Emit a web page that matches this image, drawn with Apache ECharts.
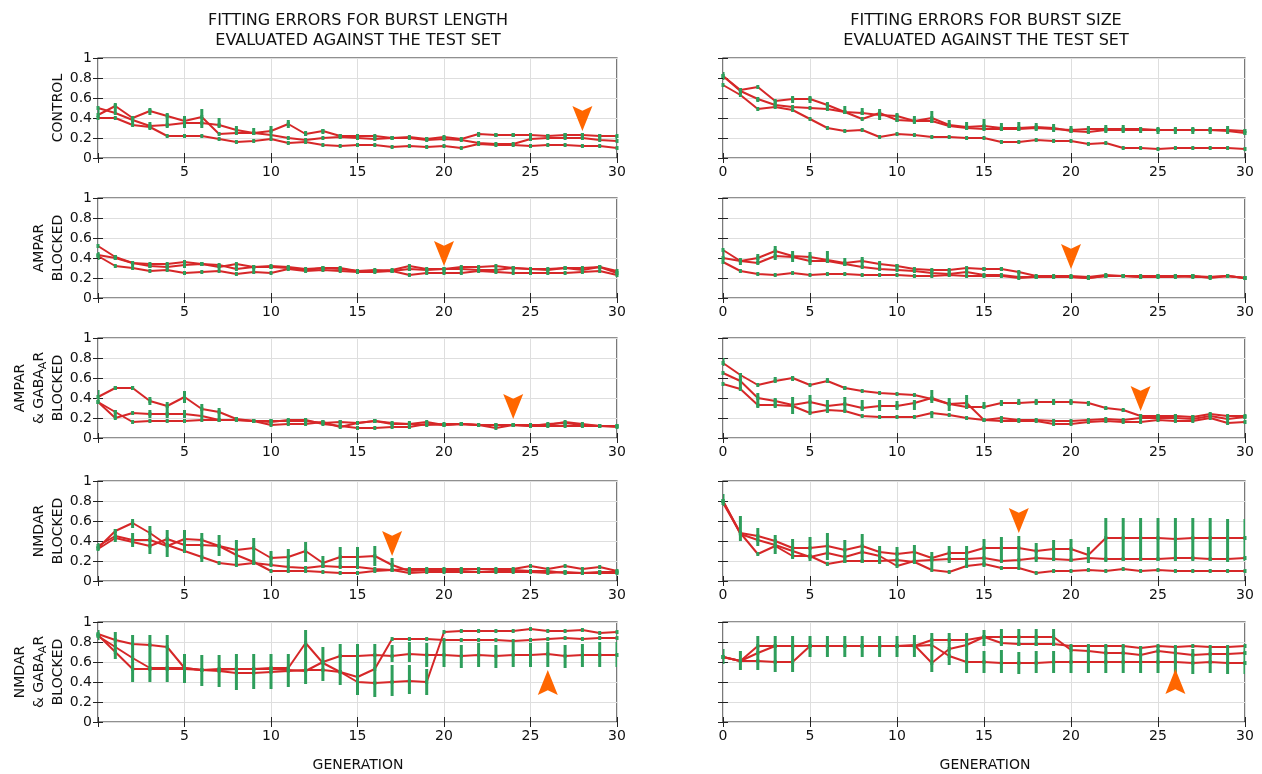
<!DOCTYPE html>
<html>
<head>
<meta charset="utf-8" />
<title>Fitting errors</title>
<script src="https://cdn.jsdelivr.net/npm/echarts@6/dist/echarts.min.js"></script>
<style>html,body{margin:0;background:#fff}#main{width:1262px;height:774px}</style>
</head>
<body>
<div id="main"></div>
<script>
// generations on the x axis
var generations = [0,1,2,3,4,5,6,7,8,9,10,11,12,13,14,15,16,17,18,19,20,21,22,23,24,25,26,27,28,29,30];

// burst length, control
var lenControl = [
  [0.43,0.52,0.40,0.47,0.42,0.37,0.41,0.24,0.25,0.25,0.27,0.34,0.24,0.27,0.22,0.22,0.22,0.20,0.21,0.19,0.21,0.19,0.24,0.23,0.23,0.23,0.22,0.23,0.23,0.22,0.22],
  [0.50,0.45,0.38,0.32,0.33,0.35,0.35,0.33,0.28,0.25,0.23,0.20,0.18,0.20,0.21,0.20,0.19,0.20,0.20,0.18,0.19,0.18,0.15,0.14,0.14,0.19,0.20,0.20,0.20,0.18,0.17],
  [0.40,0.40,0.33,0.31,0.22,0.22,0.22,0.19,0.16,0.17,0.19,0.15,0.16,0.13,0.12,0.13,0.13,0.11,0.12,0.11,0.12,0.10,0.14,0.13,0.13,0.12,0.13,0.13,0.12,0.12,0.10]
];
var lenControlErr = [[0.41,0.5],[0.47,0.55],[0.33,0.42],[0.43,0.5],[0.3,0.45],[0.3,0.42],[0.3,0.49],[0.3,0.4],[0.25,0.32],[0.23,0.3],[0.25,0.32],[0.3,0.38],[0.22,0.27],[0.24,0.29],[0.2,0.24],[0.2,0.24],[0.19,0.23],[0.19,0.22],[0.19,0.22],[0.17,0.21],[0.19,0.22],[0.17,0.2],[0.21,0.26],[0.21,0.25],[0.21,0.25],[0.21,0.24],[0.21,0.24],[0.21,0.25],[0.2,0.25],[0.19,0.24],[0.19,0.23]];
var lenControlErr2 = [[3,0.28,0.36]];

// burst size, control
var sizeControl = [
  [0.82,0.68,0.71,0.57,0.59,0.59,0.53,0.46,0.39,0.45,0.38,0.37,0.40,0.33,0.31,0.32,0.30,0.30,0.31,0.30,0.27,0.26,0.28,0.28,0.28,0.28,0.28,0.28,0.28,0.28,0.27],
  [0.82,0.67,0.59,0.53,0.51,0.50,0.49,0.46,0.45,0.43,0.42,0.37,0.37,0.32,0.30,0.29,0.29,0.29,0.30,0.29,0.28,0.29,0.29,0.29,0.29,0.28,0.28,0.28,0.28,0.27,0.25],
  [0.73,0.63,0.49,0.51,0.48,0.39,0.30,0.27,0.28,0.21,0.24,0.23,0.21,0.21,0.20,0.20,0.16,0.16,0.18,0.17,0.17,0.14,0.15,0.10,0.10,0.09,0.10,0.10,0.10,0.10,0.09]
];
var sizeControlErr = [[0.78,0.86],[0.64,0.7],[0.56,0.6],[0.52,0.58],[0.55,0.62],[0.55,0.62],[0.49,0.56],[0.44,0.52],[0.43,0.5],[0.38,0.49],[0.36,0.45],[0.34,0.42],[0.35,0.47],[0.3,0.38],[0.28,0.36],[0.28,0.39],[0.27,0.35],[0.27,0.36],[0.27,0.35],[0.26,0.34],[0.25,0.32],[0.24,0.32],[0.25,0.33],[0.25,0.33],[0.25,0.31],[0.24,0.31],[0.24,0.31],[0.24,0.31],[0.24,0.31],[0.24,0.32],[0.23,0.29]];
var sizeControlErr2 = [];

// burst length, AMPAR blocked
var lenAmpar = [
  [0.52,0.41,0.35,0.34,0.34,0.36,0.34,0.31,0.34,0.31,0.32,0.31,0.29,0.30,0.30,0.27,0.27,0.28,0.32,0.29,0.29,0.31,0.31,0.32,0.30,0.29,0.29,0.30,0.30,0.31,0.25],
  [0.43,0.40,0.35,0.32,0.31,0.33,0.34,0.33,0.29,0.31,0.31,0.30,0.28,0.30,0.29,0.27,0.28,0.27,0.29,0.28,0.29,0.29,0.28,0.28,0.30,0.29,0.28,0.30,0.28,0.31,0.27],
  [0.42,0.32,0.30,0.27,0.28,0.25,0.26,0.27,0.24,0.26,0.25,0.29,0.27,0.28,0.27,0.26,0.26,0.27,0.23,0.25,0.25,0.25,0.27,0.26,0.25,0.25,0.25,0.25,0.26,0.27,0.23]
];
var lenAmparErr = [[0.38,0.46],[0.38,0.43],[0.32,0.36],[0.3,0.35],[0.3,0.35],[0.3,0.37],[0.32,0.36],[0.3,0.34],[0.3,0.34],[0.28,0.32],[0.29,0.33],[0.29,0.32],[0.26,0.29],[0.28,0.31],[0.28,0.31],[0.25,0.28],[0.26,0.29],[0.26,0.29],[0.27,0.3],[0.26,0.29],[0.26,0.29],[0.28,0.31],[0.26,0.29],[0.26,0.29],[0.27,0.3],[0.27,0.3],[0.27,0.3],[0.28,0.31],[0.27,0.3],[0.29,0.32],[0.24,0.27]];
var lenAmparErr2 = [];

// burst size, AMPAR blocked
var sizeAmpar = [
  [0.48,0.37,0.40,0.47,0.42,0.41,0.38,0.35,0.37,0.34,0.32,0.29,0.28,0.28,0.30,0.29,0.29,0.26,0.22,0.22,0.22,0.21,0.23,0.22,0.22,0.22,0.22,0.22,0.21,0.22,0.20],
  [0.40,0.37,0.35,0.42,0.41,0.37,0.37,0.34,0.31,0.29,0.28,0.27,0.25,0.24,0.26,0.23,0.23,0.21,0.21,0.21,0.21,0.20,0.22,0.22,0.21,0.21,0.21,0.22,0.20,0.22,0.20],
  [0.36,0.27,0.24,0.23,0.25,0.23,0.24,0.24,0.23,0.23,0.23,0.22,0.22,0.23,0.22,0.22,0.22,0.20,0.21,0.21,0.21,0.20,0.22,0.22,0.21,0.22,0.22,0.21,0.21,0.22,0.20]
];
var sizeAmparErr = [[0.38,0.48],[0.33,0.4],[0.34,0.44],[0.38,0.52],[0.36,0.47],[0.33,0.46],[0.35,0.47],[0.32,0.4],[0.31,0.41],[0.3,0.37],[0.29,0.34],[0.27,0.3],[0.26,0.29],[0.24,0.28],[0.25,0.29],[0.27,0.31],[0.27,0.31],[0.23,0.27],[0.2,0.23],[0.2,0.23],[0.2,0.23],[0.19,0.22],[0.21,0.24],[0.21,0.24],[0.2,0.23],[0.2,0.23],[0.21,0.24],[0.21,0.24],[0.2,0.23],[0.21,0.24],[0.19,0.21]];
var sizeAmparErr2 = [];

// burst length, AMPAR & GABA_A R blocked
var lenAmparGaba = [
  [0.41,0.50,0.50,0.37,0.32,0.41,0.29,0.26,0.19,0.17,0.17,0.17,0.17,0.15,0.16,0.15,0.17,0.15,0.14,0.16,0.13,0.14,0.13,0.10,0.13,0.12,0.14,0.15,0.13,0.12,0.12],
  [0.36,0.20,0.25,0.24,0.24,0.24,0.22,0.18,0.18,0.17,0.13,0.14,0.14,0.16,0.11,0.15,0.17,0.14,0.14,0.13,0.14,0.14,0.13,0.13,0.13,0.13,0.13,0.16,0.14,0.12,0.11],
  [0.36,0.26,0.16,0.17,0.17,0.17,0.18,0.18,0.18,0.17,0.16,0.18,0.18,0.14,0.12,0.10,0.10,0.11,0.11,0.14,0.13,0.14,0.13,0.13,0.13,0.12,0.12,0.12,0.12,0.12,0.12]
];
var lenAmparGabaErr = [[0.36,0.48],[0.48,0.52],[0.48,0.52],[0.33,0.41],[0.27,0.36],[0.35,0.47],[0.24,0.34],[0.2,0.3],[0.17,0.21],[0.15,0.19],[0.14,0.19],[0.15,0.19],[0.14,0.2],[0.14,0.18],[0.13,0.18],[0.14,0.17],[0.15,0.19],[0.13,0.16],[0.13,0.17],[0.13,0.17],[0.12,0.15],[0.12,0.15],[0.12,0.14],[0.12,0.14],[0.12,0.14],[0.11,0.14],[0.12,0.15],[0.13,0.16],[0.12,0.15],[0.11,0.13],[0.11,0.13]];
var lenAmparGabaErr2 = [[1,0.19,0.28],[3,0.2,0.28],[4,0.2,0.27],[5,0.2,0.28]];

// burst size, AMPAR & GABA_A R blocked
var sizeAmparGaba = [
  [0.75,0.63,0.53,0.57,0.60,0.53,0.57,0.50,0.47,0.45,0.44,0.43,0.39,0.34,0.31,0.31,0.35,0.35,0.36,0.36,0.36,0.35,0.30,0.28,0.22,0.22,0.22,0.21,0.24,0.22,0.22],
  [0.65,0.57,0.40,0.37,0.33,0.36,0.32,0.34,0.30,0.32,0.32,0.35,0.40,0.34,0.35,0.18,0.20,0.18,0.18,0.17,0.17,0.18,0.19,0.18,0.20,0.20,0.20,0.19,0.22,0.19,0.21],
  [0.54,0.49,0.33,0.33,0.32,0.25,0.28,0.27,0.22,0.21,0.21,0.21,0.25,0.23,0.20,0.18,0.17,0.17,0.17,0.14,0.14,0.16,0.17,0.16,0.16,0.18,0.17,0.17,0.20,0.15,0.16]
];
var sizeAmparGabaErr = [[0.72,0.8],[0.47,0.65],[0.3,0.45],[0.3,0.4],[0.24,0.41],[0.25,0.43],[0.25,0.38],[0.27,0.41],[0.27,0.38],[0.27,0.38],[0.28,0.37],[0.28,0.38],[0.35,0.48],[0.27,0.4],[0.29,0.43],[0.3,0.36],[0.32,0.38],[0.33,0.39],[0.33,0.39],[0.33,0.39],[0.33,0.39],[0.32,0.37],[0.28,0.31],[0.26,0.29],[0.2,0.24],[0.19,0.24],[0.19,0.24],[0.19,0.23],[0.21,0.25],[0.18,0.23],[0.19,0.23]];
var sizeAmparGabaErr2 = [[3,0.56,0.61],[4,0.57,0.62],[6,0.55,0.6],[7,0.48,0.52],[12,0.2,0.26]];

// burst length, NMDAR blocked
var lenNmdar = [
  [0.33,0.50,0.58,0.48,0.36,0.30,0.24,0.18,0.16,0.18,0.16,0.14,0.13,0.15,0.14,0.14,0.12,0.11,0.08,0.09,0.09,0.09,0.09,0.09,0.09,0.09,0.08,0.09,0.08,0.09,0.09],
  [0.35,0.45,0.41,0.41,0.35,0.42,0.41,0.35,0.31,0.33,0.23,0.24,0.30,0.18,0.24,0.24,0.25,0.16,0.10,0.11,0.11,0.11,0.12,0.12,0.12,0.15,0.12,0.15,0.12,0.14,0.10],
  [0.32,0.43,0.39,0.35,0.42,0.36,0.36,0.35,0.26,0.19,0.10,0.10,0.10,0.09,0.08,0.08,0.10,0.11,0.12,0.12,0.12,0.12,0.12,0.11,0.11,0.10,0.10,0.08,0.08,0.08,0.08]
];
var lenNmdarErr = [[0.31,0.38],[0.39,0.52],[0.34,0.48],[0.27,0.55],[0.24,0.51],[0.28,0.51],[0.19,0.48],[0.25,0.46],[0.16,0.41],[0.16,0.43],[0.16,0.3],[0.15,0.32],[0.19,0.39],[0.13,0.25],[0.14,0.34],[0.14,0.34],[0.15,0.35],[0.12,0.23],[0.08,0.12],[0.09,0.12],[0.1,0.13],[0.09,0.12],[0.1,0.13],[0.1,0.12],[0.1,0.12],[0.08,0.11],[0.08,0.11],[0.08,0.11],[0.08,0.11],[0.08,0.11],[0.08,0.11]];
var lenNmdarErr2 = [[2,0.53,0.62]];

// burst size, NMDAR blocked
var sizeNmdar = [
  [0.80,0.48,0.45,0.40,0.33,0.33,0.35,0.31,0.35,0.29,0.27,0.29,0.23,0.28,0.28,0.33,0.33,0.33,0.30,0.32,0.32,0.26,0.43,0.43,0.43,0.43,0.42,0.43,0.43,0.43,0.43],
  [0.80,0.47,0.41,0.36,0.30,0.24,0.28,0.24,0.29,0.25,0.15,0.20,0.21,0.22,0.22,0.23,0.20,0.21,0.23,0.22,0.21,0.23,0.22,0.22,0.22,0.22,0.23,0.23,0.22,0.22,0.23],
  [0.78,0.48,0.27,0.35,0.25,0.25,0.17,0.20,0.20,0.20,0.21,0.19,0.11,0.09,0.15,0.17,0.13,0.13,0.08,0.10,0.10,0.11,0.10,0.12,0.10,0.11,0.10,0.10,0.10,0.10,0.10]
];
var sizeNmdarErr = [[0.75,0.87],[0.4,0.65],[0.35,0.53],[0.27,0.46],[0.22,0.42],[0.2,0.44],[0.21,0.48],[0.18,0.41],[0.18,0.47],[0.17,0.35],[0.15,0.34],[0.19,0.36],[0.13,0.29],[0.18,0.35],[0.14,0.35],[0.14,0.42],[0.2,0.44],[0.15,0.45],[0.19,0.38],[0.2,0.41],[0.19,0.42],[0.18,0.34],[0.19,0.63],[0.2,0.63],[0.2,0.63],[0.2,0.63],[0.2,0.63],[0.2,0.63],[0.2,0.63],[0.19,0.62],[0.2,0.62]];
var sizeNmdarErr2 = [];

// burst length, NMDAR & GABA_A R blocked
var lenNmdarGaba = [
  [0.88,0.82,0.78,0.77,0.75,0.54,0.52,0.51,0.49,0.49,0.50,0.51,0.52,0.52,0.50,0.40,0.39,0.40,0.41,0.40,0.90,0.91,0.91,0.91,0.91,0.93,0.91,0.91,0.92,0.89,0.90],
  [0.87,0.70,0.53,0.53,0.53,0.53,0.52,0.52,0.53,0.53,0.54,0.54,0.79,0.59,0.50,0.45,0.53,0.83,0.83,0.83,0.82,0.82,0.82,0.82,0.81,0.82,0.83,0.84,0.83,0.84,0.84],
  [0.86,0.75,0.64,0.54,0.54,0.54,0.52,0.53,0.53,0.53,0.53,0.52,0.51,0.60,0.66,0.66,0.67,0.66,0.68,0.67,0.67,0.66,0.67,0.66,0.67,0.67,0.68,0.66,0.67,0.67,0.67]
];
var lenNmdarGabaErr = [[0.82,0.92],[0.63,0.9],[0.4,0.87],[0.4,0.87],[0.4,0.87],[0.39,0.68],[0.36,0.67],[0.35,0.67],[0.32,0.68],[0.33,0.68],[0.33,0.68],[0.35,0.68],[0.38,0.92],[0.41,0.75],[0.37,0.78],[0.27,0.78],[0.25,0.78],[0.26,0.57],[0.28,0.57],[0.27,0.53],[0.55,0.8],[0.54,0.77],[0.55,0.79],[0.54,0.77],[0.55,0.79],[0.55,0.79],[0.55,0.8],[0.54,0.77],[0.55,0.78],[0.55,0.8],[0.55,0.8]];
var lenNmdarGabaErr2 = [[17,0.6,0.77],[18,0.6,0.8],[19,0.55,0.79]];

// burst size, NMDAR & GABA_A R blocked
var sizeNmdarGaba = [
  [0.65,0.61,0.76,0.76,0.76,0.76,0.76,0.76,0.76,0.76,0.76,0.76,0.82,0.82,0.82,0.85,0.85,0.85,0.85,0.85,0.72,0.71,0.69,0.69,0.67,0.71,0.69,0.67,0.68,0.68,0.69],
  [0.65,0.61,0.69,0.76,0.76,0.76,0.76,0.76,0.76,0.76,0.76,0.77,0.59,0.73,0.77,0.85,0.79,0.78,0.78,0.78,0.76,0.76,0.76,0.76,0.74,0.76,0.75,0.76,0.75,0.75,0.76],
  [0.65,0.61,0.61,0.60,0.60,0.76,0.76,0.76,0.76,0.76,0.76,0.76,0.77,0.66,0.60,0.60,0.59,0.59,0.59,0.60,0.60,0.60,0.60,0.60,0.60,0.60,0.60,0.59,0.60,0.59,0.59]
];
var sizeNmdarGabaErr = [[0.58,0.73],[0.52,0.71],[0.52,0.86],[0.5,0.86],[0.5,0.86],[0.65,0.86],[0.65,0.86],[0.65,0.86],[0.65,0.86],[0.65,0.86],[0.65,0.86],[0.65,0.87],[0.5,0.89],[0.57,0.89],[0.49,0.89],[0.76,0.92],[0.76,0.93],[0.76,0.93],[0.76,0.93],[0.76,0.93],[0.49,0.76],[0.49,0.76],[0.49,0.76],[0.49,0.76],[0.49,0.76],[0.49,0.76],[0.49,0.76],[0.48,0.73],[0.49,0.73],[0.48,0.73],[0.48,0.74]];
var sizeNmdarGabaErr2 = [[15,0.49,0.71],[16,0.49,0.72],[17,0.48,0.7],[18,0.49,0.71],[19,0.49,0.71]];

// orange arrows: generation, tip value, direction (panel order: row by row, left then right)
var arrowGen = [28, null, 20, 20, 24, 24, 17, 17, 26, 26];
var arrowTip = [0.27, null, 0.32, 0.29, 0.19, 0.27, 0.25, 0.48, 0.52, 0.53];
var arrowDir = ['down', null, 'down', 'down', 'down', 'down', 'down', 'down', 'up', 'up'];

var rowNames = [
  '{n|CONTROL}',
  '{n|AMPAR}\n{n|BLOCKED}',
  '{n|AMPAR}\n{n|& GABA}{s|A}{n|R}\n{n|BLOCKED}',
  '{n|NMDAR}\n{n|BLOCKED}',
  '{n|NMDAR}\n{n|& GABA}{s|A}{n|R}\n{n|BLOCKED}'
];

var panelLines = [lenControl, sizeControl, lenAmpar, sizeAmpar, lenAmparGaba, sizeAmparGaba, lenNmdar, sizeNmdar, lenNmdarGaba, sizeNmdarGaba];
var panelErr = [lenControlErr, sizeControlErr, lenAmparErr, sizeAmparErr, lenAmparGabaErr, sizeAmparGabaErr, lenNmdarErr, sizeNmdarErr, lenNmdarGabaErr, sizeNmdarGabaErr];
var panelErr2 = [lenControlErr2, sizeControlErr2, lenAmparErr2, sizeAmparErr2, lenAmparGabaErr2, sizeAmparGabaErr2, lenNmdarErr2, sizeNmdarErr2, lenNmdarGabaErr2, sizeNmdarGabaErr2];

var FONT = 'DejaVu Sans';
var RED = '#d62728', GREEN = '#2e9e5b', ORANGE = '#ff6600', INK = '#111';
var rowTops = [58, 198, 338, 481, 622];
var colLeft = [98, 723], colWidth = [519, 522];

var chart = echarts.init(document.getElementById('main'));

function renderBar(params, api) {
    var a = api.coord([api.value(0), api.value(1)]);
    var b = api.coord([api.value(0), api.value(2)]);
    return {type: 'line', shape: {x1: a[0], y1: a[1], x2: b[0], y2: b[1]},
            style: {stroke: GREEN, lineWidth: 3}};
}

var grids = [], xAxes = [], yAxes = [], series = [];
for (var k = 0; k < 10; k++) {
    var r = Math.floor(k / 2), c = k % 2;
    grids.push({left: colLeft[c], top: rowTops[r], width: colWidth[c], height: 100,
                show: true, borderColor: '#222', borderWidth: 1.2, backgroundColor: '#fff'});
    var tick = {show: true, inside: true, length: 5, lineStyle: {color: '#222'}};
    xAxes.push({gridIndex: k, type: 'value', min: 0, max: 30, interval: 5, position: 'bottom',
        axisLine: {show: false}, axisTick: tick,
        axisLabel: {fontSize: 14, color: INK, fontFamily: FONT, margin: 7,
            formatter: (function (col) { return function (v) { return (col === 0 && v === 0) ? '' : String(v); }; })(c)},
        splitLine: {show: true, lineStyle: {color: '#dedede', width: 1}}});
    xAxes.push({gridIndex: k, type: 'value', min: 0, max: 30, interval: 5, position: 'top',
        axisLine: {show: false}, axisTick: tick, axisLabel: {show: false}, splitLine: {show: false}});
    yAxes.push({gridIndex: k, type: 'value', min: 0, max: 1, interval: 0.2, position: 'left',
        axisLine: {show: false}, axisTick: tick,
        axisLabel: {show: c === 0, fontSize: 14, color: INK, fontFamily: FONT, margin: 6},
        splitLine: {show: true, lineStyle: {color: '#dedede', width: 1}},
        name: c === 0 ? rowNames[r] : '', nameLocation: 'middle', nameRotate: 90, nameGap: 30,
        nameTextStyle: {rich: {
            n: {fontSize: 14, fontFamily: FONT, color: INK, lineHeight: 19},
            s: {fontSize: 11, fontFamily: FONT, color: INK, lineHeight: 19, verticalAlign: 'bottom', padding: [6, 0, 0, 0]}
        }}});
    yAxes.push({gridIndex: k, type: 'value', min: 0, max: 1, interval: 0.2, position: 'right',
        axisLine: {show: false}, axisTick: tick, axisLabel: {show: false}, splitLine: {show: false}});

    panelLines[k].forEach(function (vals) {
        series.push({type: 'line', xAxisIndex: 2 * k, yAxisIndex: 2 * k,
            data: generations.map(function (g, i) { return [g, vals[i]]; }),
            symbol: 'rect', symbolSize: [3, 4], itemStyle: {color: GREEN},
            lineStyle: {color: RED, width: 2}, z: 3, silent: true, animation: false});
    });
    var bars = panelErr[k].map(function (p, i) { return [generations[i], p[0], p[1]]; })
        .concat(panelErr2[k]);
    series.push({type: 'custom', xAxisIndex: 2 * k, yAxisIndex: 2 * k, data: bars,
        renderItem: renderBar, clip: true, z: 4, silent: true, animation: false});
    if (arrowGen[k] !== null) {
        var down = arrowDir[k] === 'down';
        series.push({type: 'scatter', xAxisIndex: 2 * k, yAxisIndex: 2 * k,
            data: [[arrowGen[k], arrowTip[k]]],
            symbol: down ? 'path://M0,0 L10,5 L20,0 L10,26 Z' : 'path://M0,26 L10,21 L20,26 L10,0 Z',
            symbolSize: [20, 25], symbolOffset: [0, down ? '-50%' : '50%'],
            itemStyle: {color: ORANGE, opacity: 1}, z: 6, silent: true, animation: false});
    }
}

var option = {
    backgroundColor: '#fff',
    animation: false,
    grid: grids,
    xAxis: xAxes,
    yAxis: yAxes,
    series: series,
    graphic: [
        {type: 'text', x: 358, y: 11, style: {text: 'FITTING ERRORS FOR BURST LENGTH\nEVALUATED AGAINST THE TEST SET',
            align: 'center', font: '16px "DejaVu Sans"', fill: INK, lineHeight: 20}},
        {type: 'text', x: 986, y: 11, style: {text: 'FITTING ERRORS FOR BURST SIZE\nEVALUATED AGAINST THE TEST SET',
            align: 'center', font: '16px "DejaVu Sans"', fill: INK, lineHeight: 20}},
        {type: 'text', x: 358, y: 758, style: {text: 'GENERATION', align: 'center', font: '14px "DejaVu Sans"', fill: INK}},
        {type: 'text', x: 985, y: 758, style: {text: 'GENERATION', align: 'center', font: '14px "DejaVu Sans"', fill: INK}}
    ]
};
chart.setOption(option);
</script>
</body>
</html>
